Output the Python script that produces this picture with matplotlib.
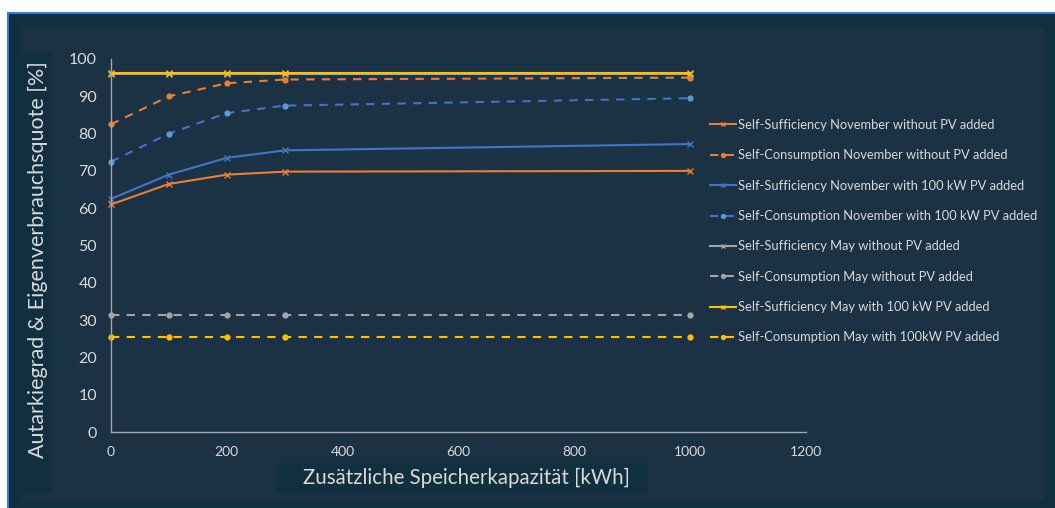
import matplotlib.pyplot as plt
from matplotlib.patches import Rectangle

# Data
storage = [0, 100, 200, 300, 1000]
ss_nov_no_pv = [61.0, 66.5, 69.0, 69.8, 70.0]
sc_nov_no_pv = [82.5, 90.0, 93.5, 94.5, 95.0]
ss_nov_pv = [62.5, 69.0, 73.5, 75.5, 77.2]
sc_nov_pv = [72.5, 80.0, 85.5, 87.5, 89.5]
ss_may_no_pv = [96.0, 96.0, 96.0, 96.0, 96.0]
sc_may_no_pv = [31.5, 31.5, 31.5, 31.5, 31.5]
ss_may_pv = [96.2, 96.2, 96.2, 96.2, 96.2]
sc_may_pv = [25.5, 25.5, 25.5, 25.5, 25.5]

labels = [
    "Self-Sufficiency November without PV added",
    "Self-Consumption November without PV added",
    "Self-Sufficiency November with 100 kW PV added",
    "Self-Consumption November with 100 kW PV added",
    "Self-Sufficiency May without PV added",
    "Self-Consumption May without PV added",
    "Self-Sufficiency May with 100 kW PV added",
    "Self-Consumption May with 100kW PV added",
]
x_ticks = [0, 200, 400, 600, 800, 1000, 1200]
y_ticks = list(range(0, 101, 10))

W, H = 1055, 508
ORANGE = "#ED7D31"
BLUE = "#4472C4"
LBLUE = "#5B9BD5"
GRAY = "#A5A5A5"
GOLD = "#FFC000"
TEXT = "#d9d9d9"
plt.rcParams['font.family'] = ['Lato', 'DejaVu Sans']


def box(x0, y0, x1, y1, color, z=0):
    # rectangle given in pixel coords (top-left origin)
    r = Rectangle((x0 / W, 1 - y1 / H), (x1 - x0) / W, (y1 - y0) / H,
                  transform=fig.transFigure, facecolor=color, edgecolor='none', zorder=z)
    fig.add_artist(r)


fig = plt.figure(figsize=(W / 100, H / 100), dpi=100, facecolor='white')
box(7, 12, W, H, '#2f7fe0', -5)
box(9, 14, W, H, '#11303f', -4)
box(22, 28, 1044, 500, '#1a3244', -3)
box(22, 52, 53, 493, '#11303f', -2)
box(275, 463, 648, 493, '#11303f', -2)

ax = fig.add_axes([111 / W, 1 - 432 / H, (806 - 111) / W, (432 - 59) / H])
ax.set_facecolor('none')

series = [
    (ss_nov_no_pv, ORANGE, '-', 'x', ORANGE),
    (sc_nov_no_pv, ORANGE, '--', 'o', ORANGE),
    (ss_nov_pv, BLUE, '-', 'x', BLUE),
    (sc_nov_pv, BLUE, '--', 'o', LBLUE),
    (ss_may_no_pv, GRAY, '-', 'x', GRAY),
    (sc_may_no_pv, GRAY, '--', 'o', GRAY),
    (ss_may_pv, GOLD, '-', 'x', GOLD),
    (sc_may_pv, GOLD, '--', 'o', GOLD),
]
for (vals, col, ls, mk, mcol), lab in zip(series, labels):
    line, = ax.plot(storage, vals, color=col, linestyle=ls, marker=mk, markersize=4 if mk == 'x' else 3.5,
                    markerfacecolor=mcol, markeredgecolor=mcol, markeredgewidth=1.0, linewidth=1.5, label=lab,
                    clip_on=False)
    if ls == '--':
        line.set_dashes((4, 3.5))

ax.set_xlim(0, 1200)
ax.set_ylim(0, 100)
ax.set_xticks(x_ticks)
ax.set_yticks(y_ticks)
ax.tick_params(length=0, colors=TEXT)
ax.tick_params(axis='y', labelsize=11.5, pad=10)
ax.tick_params(axis='x', labelsize=10, pad=10)
for s in ['top', 'right']:
    ax.spines[s].set_visible(False)
for s in ['left', 'bottom']:
    ax.spines[s].set_color('#a6a6a6')
    ax.spines[s].set_linewidth(1.0)

fig.text(37.5 / W, 1 - 260 / H, "Autarkiegrad & Eigenverbrauchsquote [%]", rotation=90,
         ha='center', va='center', color=TEXT, fontsize=15.5)
fig.text(466 / W, 1 - 478 / H, "Zusätzliche Speicherkapazität [kWh]", ha='center', va='center',
         color=TEXT, fontsize=14.8)

leg = ax.legend(loc='upper left', bbox_to_anchor=(710 / W, 1 - 119 / H), bbox_transform=fig.transFigure,
                frameon=False, fontsize=9.3, labelcolor=TEXT, handlelength=2.0, handletextpad=0.2,
                labelspacing=1.42, markerscale=0.8, borderpad=0, borderaxespad=0)

fig.savefig('out.png', dpi=100, facecolor=fig.get_facecolor())
